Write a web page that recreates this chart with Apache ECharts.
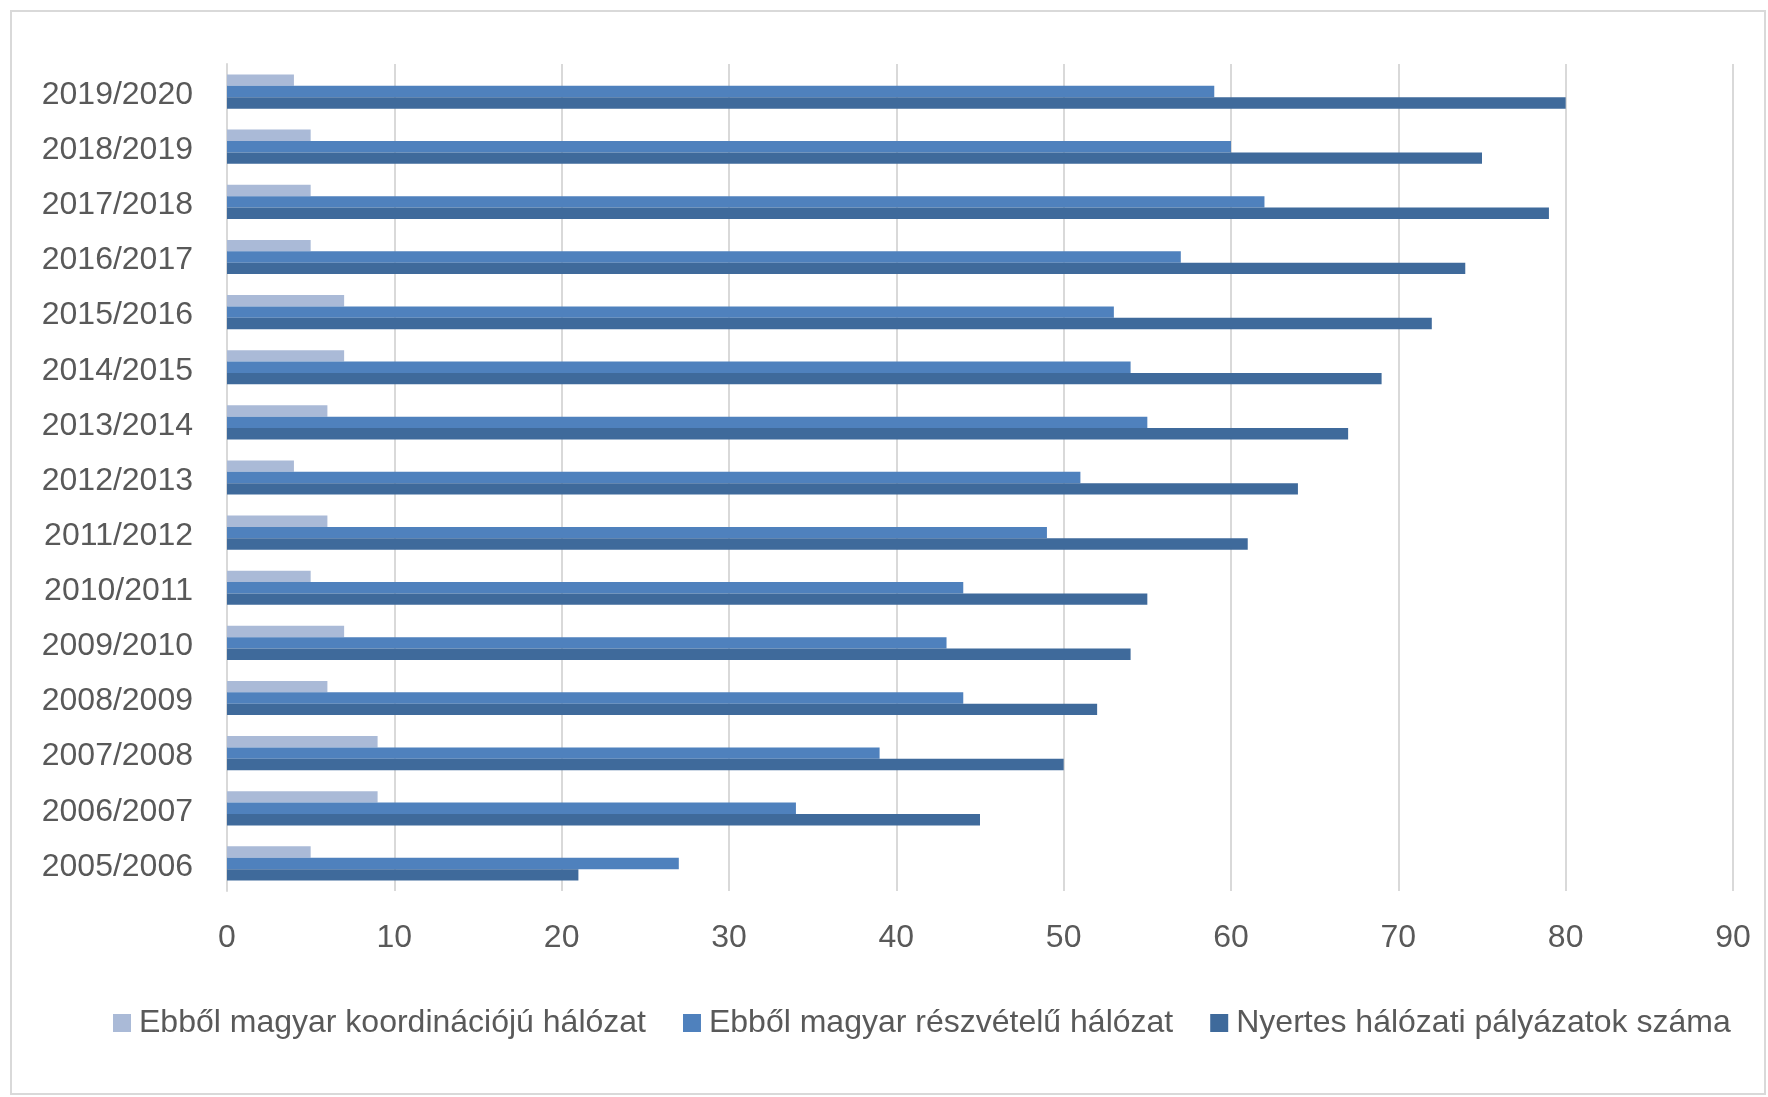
<!DOCTYPE html>
<html>
<head>
<meta charset="utf-8">
<style>
  html, body { margin: 0; padding: 0; background: #ffffff; }
  #chart { width: 1768px; height: 1097px; }
</style>
<script src="https://cdn.jsdelivr.net/npm/echarts@6/dist/echarts.min.js"></script>
</head>
<body>
<div id="chart"></div>
<script>
// Categories (bottom to top as on the category axis)
const categories = [
  '2005/2006', '2006/2007', '2007/2008', '2008/2009', '2009/2010',
  '2010/2011', '2011/2012', '2012/2013', '2013/2014', '2014/2015',
  '2015/2016', '2016/2017', '2017/2018', '2018/2019', '2019/2020'
];
const seriesNames = [
  'Ebből magyar koordinációjú hálózat',
  'Ebből magyar részvételű hálózat',
  'Nyertes hálózati pályázatok száma'
];
const coordinated = [5, 9, 9, 6, 7, 5, 6, 4, 6, 7, 7, 5, 5, 5, 4];
const participated = [27, 34, 39, 44, 43, 44, 49, 51, 55, 54, 53, 57, 62, 60, 59];
const winning = [21, 45, 50, 52, 54, 55, 61, 64, 67, 69, 72, 74, 79, 75, 80];
const xTicks = { min: 0, max: 90, interval: 10 };

const colors = ['#aabad7', '#4f81bd', '#3f6a9b'];
const textColor = '#595959';
const fontFamily = '"Liberation Sans", Arial, sans-serif';

const chart = echarts.init(document.getElementById('chart'), null, { renderer: 'canvas' });

const seriesData = [coordinated, participated, winning];
const series = seriesData.map((d, i) => ({
  name: seriesNames[i],
  type: 'bar',
  data: d,
  barGap: '0%',
  barCategoryGap: '38%',
  itemStyle: { color: colors[i] },
  emphasis: { disabled: true },
  animation: false
}));

chart.setOption({
  animation: false,
  backgroundColor: '#ffffff',
  graphic: [{
    type: 'rect',
    shape: { x: 11, y: 11, width: 1754, height: 1083 },
    style: { fill: 'none', stroke: '#d9d9d9', lineWidth: 2 },
    silent: true
  }],
  grid: { left: 227, right: 35, top: 64, bottom: 206, containLabel: false },
  legend: {
    data: seriesNames,
    left: 108,
    top: 1002,
    itemWidth: 18,
    itemHeight: 18,
    itemGap: 37,
    icon: 'rect',
    textStyle: { color: textColor, fontSize: 32, fontFamily: fontFamily, lineHeight: 32, padding: [0, 0, 0, 3] },
    selectedMode: false
  },
  xAxis: {
    type: 'value',
    min: xTicks.min,
    max: xTicks.max,
    interval: xTicks.interval,
    axisLine: { show: false },
    axisTick: { show: false },
    axisLabel: { color: textColor, fontSize: 32, fontFamily: fontFamily, lineHeight: 32, margin: 31 },
    splitLine: { show: true, lineStyle: { color: '#d9d9d9', width: 2 } }
  },
  yAxis: {
    type: 'category',
    data: categories,
    axisLine: { show: true, lineStyle: { color: '#d9d9d9', width: 2 } },
    axisTick: { show: false },
    axisLabel: {
      color: textColor, fontSize: 32, fontFamily: fontFamily, margin: 34,
      formatter: function (v) { return '{c|' + v + '}'; },
      rich: { c: { color: textColor, fontSize: 32, fontFamily: fontFamily, lineHeight: 32, padding: [7, 0, 0, 0] } }
    },
    splitLine: { show: false }
  },
  series: series
});
</script>
</body>
</html>
